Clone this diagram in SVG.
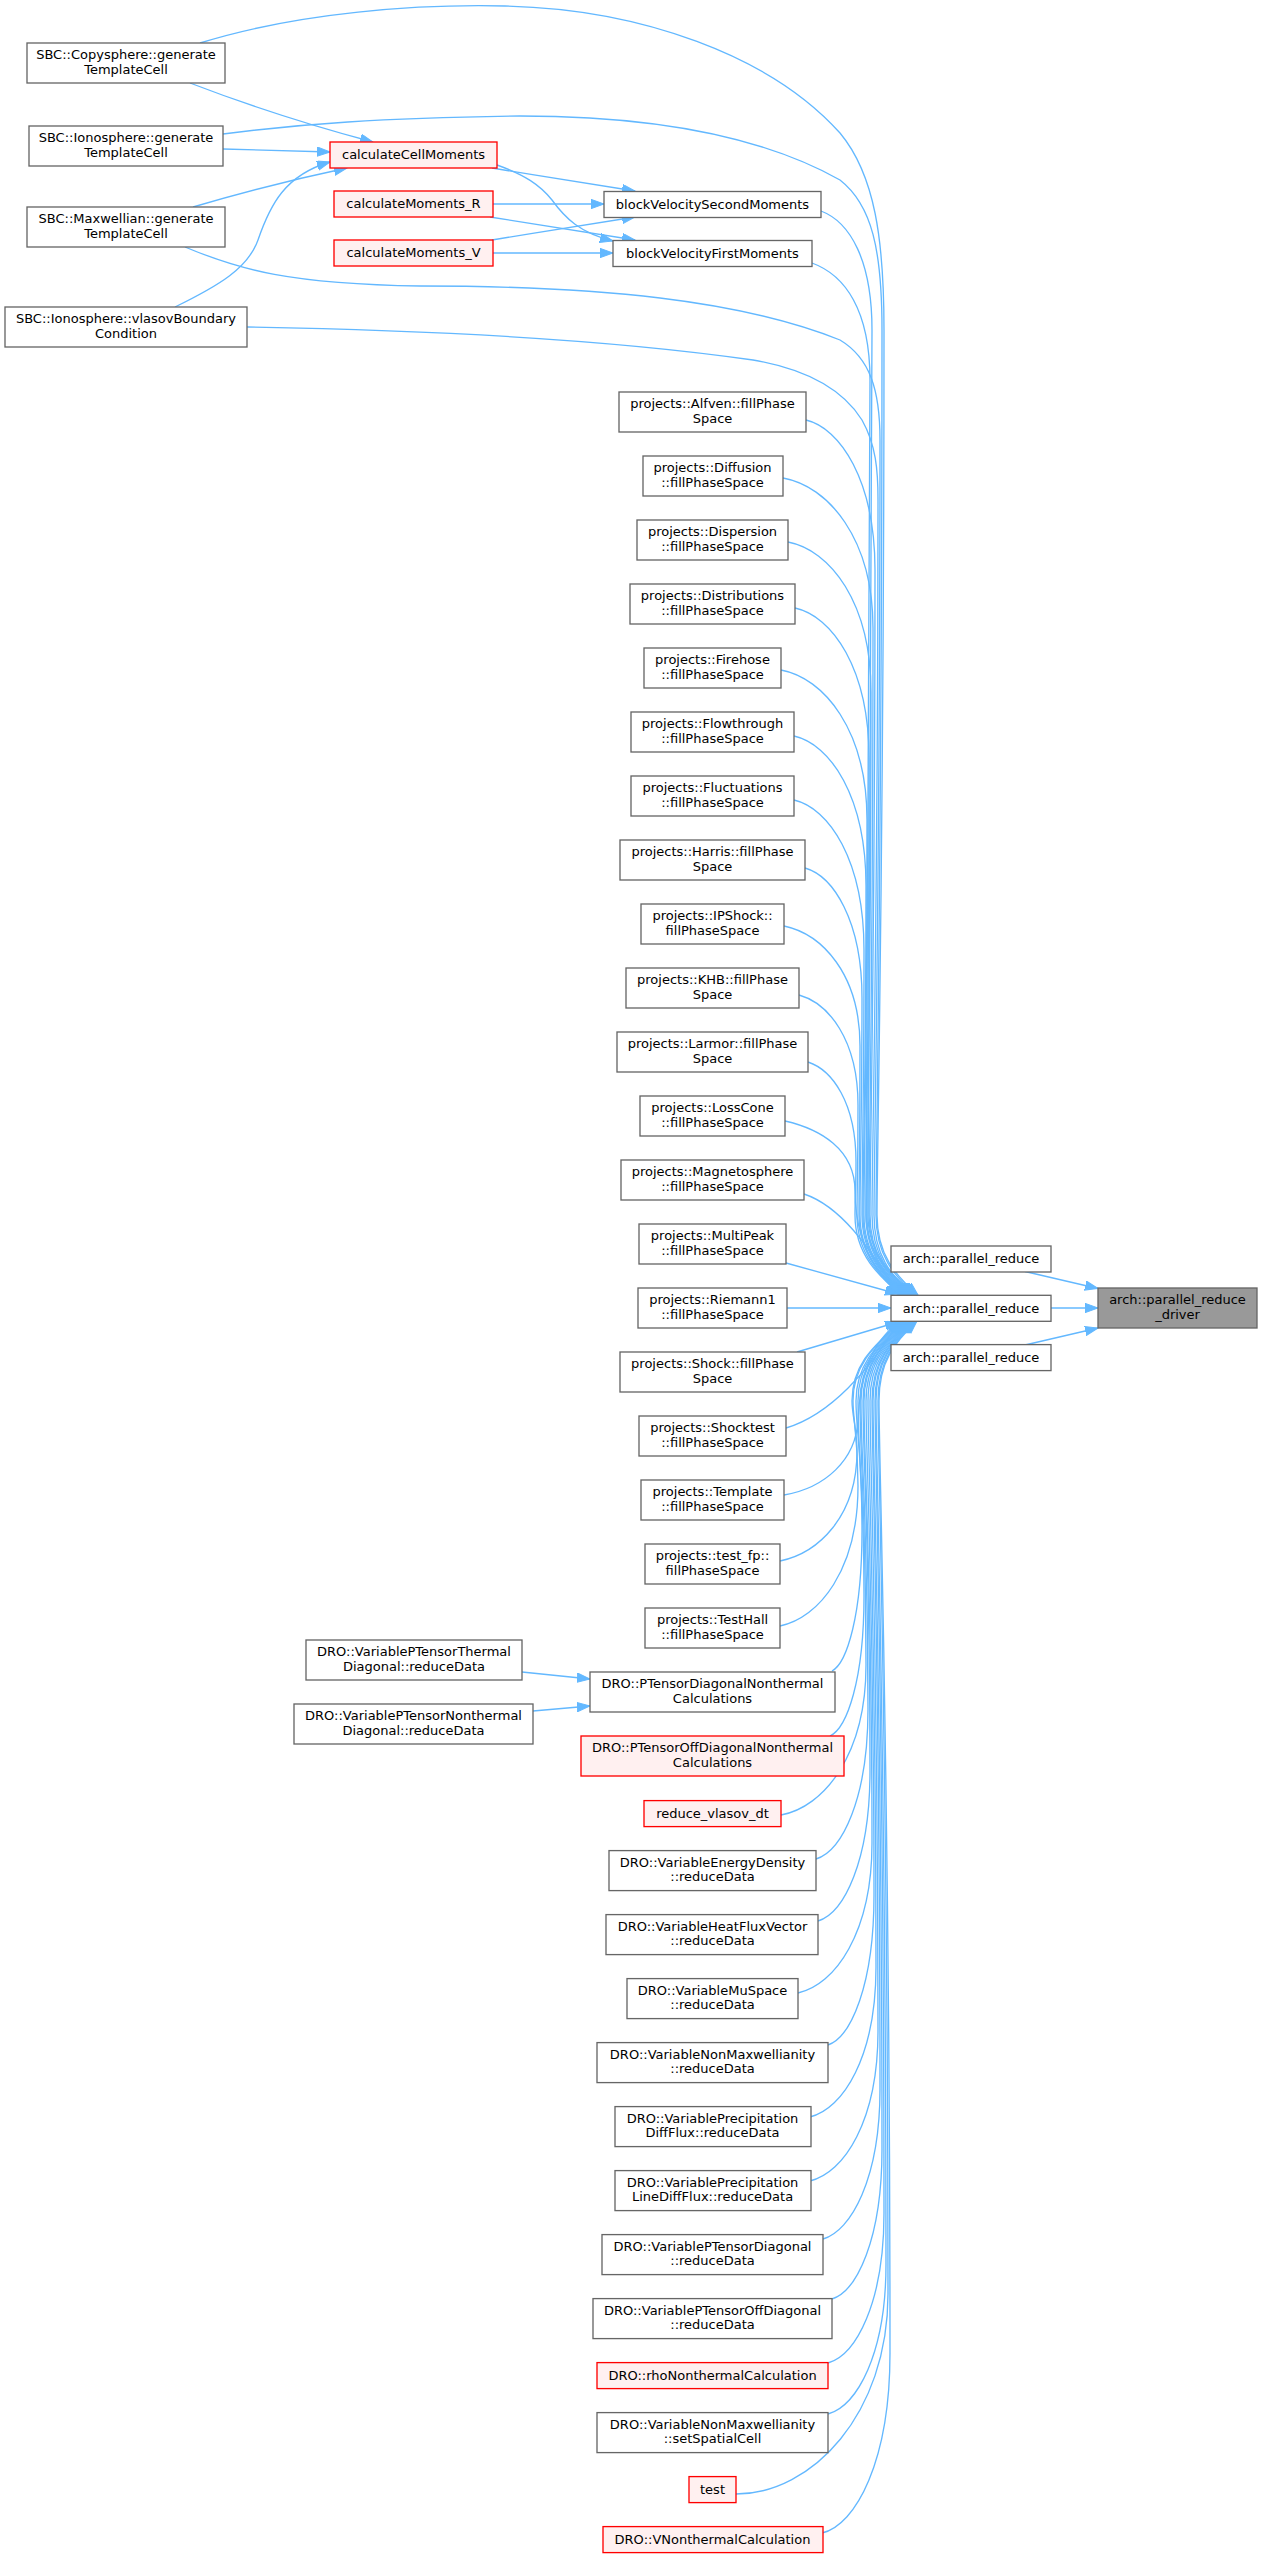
<svg xmlns="http://www.w3.org/2000/svg" width="1263" height="2558" viewBox="0 0 1263 2558">
<defs>
<marker id="a" markerUnits="userSpaceOnUse" markerWidth="14" markerHeight="10" refX="13" refY="4.67" orient="auto">
<path d="M0,0 L13,4.67 L0,9.33 Z" fill="#63b8ff" stroke="#63b8ff" stroke-width="1"/>
</marker>
</defs>
<style>
.n rect{fill:#ffffff;stroke:#666666;stroke-width:1.33}
.r rect{fill:#fff0f0;stroke:#ff0000}
.d rect{fill:#999999;stroke:#666666}
text{font-family:"DejaVu Sans",sans-serif;font-size:13px;text-anchor:middle;fill:#000000}
.e path{fill:none;stroke:#63b8ff;stroke-width:1.33;marker-end:url(#a)}
</style>
<rect width="1263" height="2558" fill="#ffffff"/>
<g class="e" id="edges">
<path d="M190,83 C250,106 320,128 373,142"/>
<path d="M223,149 C270,150 300,151 330,152"/>
<path d="M193,207 C250,190 300,178 347,168"/>
<path d="M175,307 C220,285 248,268 258,240 C270,205 285,175 330,162"/>
<path d="M492,168 C540,176 590,184 635,191"/>
<path d="M497,165 C525,175 540,185 552,200 C565,218 580,233 613,241"/>
<path d="M493,204 L604,204"/>
<path d="M490,217 C540,225 590,233 635,240"/>
<path d="M492,240 C540,232 590,224 635,217"/>
<path d="M493,253 L613,253"/>
<path d="M200,43 C300,12 420,4 505,6 C640,9 770,55 840,133 C875,175 884,240 884,330 C884,861 877,1155 877,1215 C877,1255 896,1276 918,1295"/>
<path d="M223,134 C300,124 380,118 520,116 C650,116 760,135 840,180 C872,205 882,250 882,330 C882,861 876,1155 876,1215 C876,1255 894,1276 916,1295"/>
<path d="M821,211 C850,222 872,260 872,330 C872,861 868,1155 868,1215 C868,1255 893,1276 915,1295"/>
<path d="M812,263 C845,275 870,310 870,380 C870,881 866,1155 866,1215 C866,1255 892,1276 914,1295"/>
<path d="M185,247 C240,270 290,284 420,286 C600,286 740,300 840,340 C870,358 880,390 880,440 C880,905 874,1155 874,1215 C874,1255 891,1276 913,1295"/>
<path d="M247,327 C420,330 600,338 753,360 C800,368 840,385 862,420 C876,445 878,470 878,500 C878,929 872,1155 872,1215 C872,1255 890,1276 912,1295"/>
<path d="M806,420 C840,428 875,480 875,570 C875,957 870,1155 870,1215 C870,1255 889,1276 911,1295"/>
<path d="M783,478 C828,486 873,538 873,628 C873,980 869,1155 869,1215 C869,1255 888,1276 910,1295"/>
<path d="M788,542 C830,550 871,602 871,692 C871,1006 867,1155 867,1215 C867,1255 887,1276 909,1295"/>
<path d="M795,608 C832,616 869,668 869,758 C869,1032 866,1155 866,1215 C866,1255 886,1276 908,1295"/>
<path d="M781,670 C824,678 867,730 867,820 C867,1057 864,1155 864,1215 C864,1255 885,1276 907,1295"/>
<path d="M794,736 C830,744 866,796 866,886 C866,1083 863,1155 863,1215 C863,1255 884,1276 906,1295"/>
<path d="M794,800 C829,808 864,860 864,950 C864,1109 862,1160 862,1215 C862,1255 883,1276 905,1295"/>
<path d="M805,868 C833,876 862,920 862,998 C862,1128 860,1165 860,1215 C860,1255 882,1276 904,1295"/>
<path d="M784,926 C822,934 860,974 860,1046 C860,1147 859,1175 859,1215 C859,1255 881,1276 903,1295"/>
<path d="M799,995 C828,1003 858,1039 858,1105 C858,1171 857,1190 857,1215 C857,1255 880,1276 902,1295"/>
<path d="M808,1062 C832,1070 856,1102 856,1162 C856,1185 855,1200 855,1215 C855,1255 879,1276 901,1295"/>
<path d="M785,1121 C820,1129 855,1149 855,1191 C855,1235 872,1270 900,1295"/>
<path d="M804,1194 C840,1206 868,1245 899,1295"/>
<path d="M786,1263 L898,1294"/>
<path d="M787,1308 L891,1308"/>
<path d="M797,1352 L898,1322"/>
<path d="M786,1428 C830,1415 870,1370 899,1321"/>
<path d="M784,1495 C825,1488 856,1460 858,1420 C860,1380 868,1345 900,1321"/>
<path d="M780,1561 C818,1553 857,1517 857,1451 C857,1430 852,1415 852,1401 C852,1361 879,1342 901,1321"/>
<path d="M780,1626 C819,1618 858,1570 858,1486 C858,1435 853,1420 853,1401 C853,1361 880,1342 902,1321"/>
<path d="M832,1671 C847,1663 862,1615 862,1531 C862,1453 856,1430 856,1401 C856,1361 881,1342 903,1321"/>
<path d="M830,1736 C847,1728 864,1680 864,1596 C864,1479 858,1461 858,1401 C858,1361 882,1342 904,1321"/>
<path d="M781,1815 C824,1807 866,1755 866,1665 C866,1507 860,1461 860,1401 C860,1361 883,1342 905,1321"/>
<path d="M816,1859 C842,1851 868,1799 868,1709 C868,1524 861,1461 861,1401 C861,1361 884,1342 906,1321"/>
<path d="M818,1921 C844,1913 870,1861 870,1771 C870,1549 863,1461 863,1401 C863,1361 885,1342 907,1321"/>
<path d="M798,1993 C835,1985 872,1933 872,1843 C872,1578 864,1461 864,1401 C864,1361 886,1342 908,1321"/>
<path d="M828,2045 C851,2037 874,1985 874,1895 C874,1599 866,1461 866,1401 C866,1361 887,1342 909,1321"/>
<path d="M810,2117 C843,2109 876,2057 876,1967 C876,1627 868,1461 868,1401 C868,1361 888,1342 910,1321"/>
<path d="M810,2181 C844,2173 878,2121 878,2031 C878,1653 870,1461 870,1401 C870,1361 889,1342 911,1321"/>
<path d="M823,2239 C851,2231 880,2179 880,2089 C880,1676 872,1461 872,1401 C872,1361 890,1342 912,1321"/>
<path d="M832,2299 C857,2291 882,2239 882,2149 C882,1700 873,1461 873,1401 C873,1361 891,1342 913,1321"/>
<path d="M828,2363 C856,2355 884,2303 884,2213 C884,1726 875,1461 875,1401 C875,1361 892,1342 914,1321"/>
<path d="M828,2414 C857,2406 886,2354 886,2264 C886,1746 876,1461 876,1401 C876,1361 893,1342 915,1321"/>
<path d="M736,2494 C812,2494 888,2414 888,2294 C888,1758 878,1461 878,1401 C878,1361 894,1342 916,1321"/>
<path d="M822,2533 C856,2525 890,2461 890,2353 C890,1782 879,1461 879,1401 C879,1361 895,1342 917,1321"/>
<path d="M522,1672 L590,1679"/>
<path d="M533,1711 L590,1706"/>
<path d="M1025,1271.5 L1098,1288.5"/>
<path d="M1051,1308 L1098,1308"/>
<path d="M1025,1345 L1098,1328"/>
</g>
<g id="n_copysphere" class="n"><rect x="27" y="43" width="198" height="40"/><text x="126" y="59">SBC::Copysphere::generate</text><text x="126" y="73.7">TemplateCell</text></g>
<g id="n_ionosphere_gen" class="n"><rect x="29" y="126" width="194" height="40"/><text x="126" y="142">SBC::Ionosphere::generate</text><text x="126" y="156.7">TemplateCell</text></g>
<g id="n_maxwellian" class="n"><rect x="27" y="207" width="198" height="40"/><text x="126" y="223">SBC::Maxwellian::generate</text><text x="126" y="237.7">TemplateCell</text></g>
<g id="n_vlasovbc" class="n"><rect x="5" y="307" width="242" height="40"/><text x="126" y="323">SBC::Ionosphere::vlasovBoundary</text><text x="126" y="337.7">Condition</text></g>
<g id="n_calccell" class="n r"><rect x="330" y="142" width="167" height="26"/><text x="413.5" y="159.3">calculateCellMoments</text></g>
<g id="n_calcR" class="n r"><rect x="334" y="191" width="159" height="26"/><text x="413.5" y="208.3">calculateMoments_R</text></g>
<g id="n_calcV" class="n r"><rect x="334" y="240" width="159" height="26"/><text x="413.5" y="257.3">calculateMoments_V</text></g>
<g id="n_thermal" class="n"><rect x="306" y="1640" width="216" height="40"/><text x="414" y="1656">DRO::VariablePTensorThermal</text><text x="414" y="1670.7">Diagonal::reduceData</text></g>
<g id="n_nonthermal" class="n"><rect x="294" y="1704" width="239" height="40"/><text x="413.5" y="1720">DRO::VariablePTensorNonthermal</text><text x="413.5" y="1734.7">Diagonal::reduceData</text></g>
<g id="n_bvsm" class="n"><rect x="604" y="191.5" width="217" height="26"/><text x="712.5" y="208.8">blockVelocitySecondMoments</text></g>
<g id="n_bvfm" class="n"><rect x="613" y="240.5" width="199" height="26"/><text x="712.5" y="257.8">blockVelocityFirstMoments</text></g>
<g id="n_alfven" class="n"><rect x="619" y="392" width="187" height="40"/><text x="712.5" y="408">projects::Alfven::fillPhase</text><text x="712.5" y="422.7">Space</text></g>
<g id="n_diffusion" class="n"><rect x="643" y="456" width="140" height="40"/><text x="712.5" y="472">projects::Diffusion</text><text x="712.5" y="486.7">::fillPhaseSpace</text></g>
<g id="n_dispersion" class="n"><rect x="637" y="520" width="151" height="40"/><text x="712.5" y="536">projects::Dispersion</text><text x="712.5" y="550.7">::fillPhaseSpace</text></g>
<g id="n_distributions" class="n"><rect x="630" y="584" width="165" height="40"/><text x="712.5" y="600">projects::Distributions</text><text x="712.5" y="614.7">::fillPhaseSpace</text></g>
<g id="n_firehose" class="n"><rect x="644" y="648" width="137" height="40"/><text x="712.5" y="664">projects::Firehose</text><text x="712.5" y="678.7">::fillPhaseSpace</text></g>
<g id="n_flowthrough" class="n"><rect x="631" y="712" width="163" height="40"/><text x="712.5" y="728">projects::Flowthrough</text><text x="712.5" y="742.7">::fillPhaseSpace</text></g>
<g id="n_fluctuations" class="n"><rect x="631" y="776" width="163" height="40"/><text x="712.5" y="792">projects::Fluctuations</text><text x="712.5" y="806.7">::fillPhaseSpace</text></g>
<g id="n_harris" class="n"><rect x="620" y="840" width="185" height="40"/><text x="712.5" y="856">projects::Harris::fillPhase</text><text x="712.5" y="870.7">Space</text></g>
<g id="n_ipshock" class="n"><rect x="641" y="904" width="143" height="40"/><text x="712.5" y="920">projects::IPShock::</text><text x="712.5" y="934.7">fillPhaseSpace</text></g>
<g id="n_khb" class="n"><rect x="626" y="968" width="173" height="40"/><text x="712.5" y="984">projects::KHB::fillPhase</text><text x="712.5" y="998.7">Space</text></g>
<g id="n_larmor" class="n"><rect x="617" y="1032" width="191" height="40"/><text x="712.5" y="1048">projects::Larmor::fillPhase</text><text x="712.5" y="1062.7">Space</text></g>
<g id="n_losscone" class="n"><rect x="640" y="1096" width="145" height="40"/><text x="712.5" y="1112">projects::LossCone</text><text x="712.5" y="1126.7">::fillPhaseSpace</text></g>
<g id="n_magnetosphere" class="n"><rect x="621" y="1160" width="183" height="40"/><text x="712.5" y="1176">projects::Magnetosphere</text><text x="712.5" y="1190.7">::fillPhaseSpace</text></g>
<g id="n_multipeak" class="n"><rect x="639" y="1224" width="147" height="40"/><text x="712.5" y="1240">projects::MultiPeak</text><text x="712.5" y="1254.7">::fillPhaseSpace</text></g>
<g id="n_riemann1" class="n"><rect x="638" y="1288" width="149" height="40"/><text x="712.5" y="1304">projects::Riemann1</text><text x="712.5" y="1318.7">::fillPhaseSpace</text></g>
<g id="n_shock" class="n"><rect x="620" y="1352" width="185" height="40"/><text x="712.5" y="1368">projects::Shock::fillPhase</text><text x="712.5" y="1382.7">Space</text></g>
<g id="n_shocktest" class="n"><rect x="639" y="1416" width="147" height="40"/><text x="712.5" y="1432">projects::Shocktest</text><text x="712.5" y="1446.7">::fillPhaseSpace</text></g>
<g id="n_template" class="n"><rect x="641" y="1480" width="143" height="40"/><text x="712.5" y="1496">projects::Template</text><text x="712.5" y="1510.7">::fillPhaseSpace</text></g>
<g id="n_testfp" class="n"><rect x="645" y="1544" width="135" height="40"/><text x="712.5" y="1560">projects::test_fp::</text><text x="712.5" y="1574.7">fillPhaseSpace</text></g>
<g id="n_testhall" class="n"><rect x="645" y="1608" width="135" height="40"/><text x="712.5" y="1624">projects::TestHall</text><text x="712.5" y="1638.7">::fillPhaseSpace</text></g>
<g id="n_ptdn" class="n"><rect x="590" y="1672" width="245" height="40"/><text x="712.5" y="1688">DRO::PTensorDiagonalNonthermal</text><text x="712.5" y="1702.7">Calculations</text></g>
<g id="n_ptodn" class="n r"><rect x="581" y="1736" width="263" height="40"/><text x="712.5" y="1752">DRO::PTensorOffDiagonalNonthermal</text><text x="712.5" y="1766.7">Calculations</text></g>
<g id="n_reducedt" class="n r"><rect x="644" y="1800.6" width="137" height="26"/><text x="712.5" y="1817.9">reduce_vlasov_dt</text></g>
<g id="n_energy" class="n"><rect x="609" y="1850.6" width="207" height="40"/><text x="712.5" y="1866.6">DRO::VariableEnergyDensity</text><text x="712.5" y="1881.3">::reduceData</text></g>
<g id="n_heatflux" class="n"><rect x="606" y="1914.6" width="212" height="40"/><text x="712.5" y="1930.6">DRO::VariableHeatFluxVector</text><text x="712.5" y="1945.3">::reduceData</text></g>
<g id="n_muspace" class="n"><rect x="627" y="1978.6" width="171" height="40"/><text x="712.5" y="1994.6">DRO::VariableMuSpace</text><text x="712.5" y="2009.3">::reduceData</text></g>
<g id="n_nonmax_rd" class="n"><rect x="597" y="2042.6" width="231" height="40"/><text x="712.5" y="2058.6">DRO::VariableNonMaxwellianity</text><text x="712.5" y="2073.3">::reduceData</text></g>
<g id="n_precipdiff" class="n"><rect x="615" y="2106.6" width="196" height="40"/><text x="712.5" y="2122.6">DRO::VariablePrecipitation</text><text x="712.5" y="2137.3">DiffFlux::reduceData</text></g>
<g id="n_preciplinediff" class="n"><rect x="615" y="2170.6" width="196" height="40"/><text x="712.5" y="2186.6">DRO::VariablePrecipitation</text><text x="712.5" y="2201.3">LineDiffFlux::reduceData</text></g>
<g id="n_ptdiag" class="n"><rect x="602" y="2234.6" width="221" height="40"/><text x="712.5" y="2250.6">DRO::VariablePTensorDiagonal</text><text x="712.5" y="2265.3">::reduceData</text></g>
<g id="n_ptoffdiag" class="n"><rect x="593" y="2298.6" width="239" height="40"/><text x="712.5" y="2314.6">DRO::VariablePTensorOffDiagonal</text><text x="712.5" y="2329.3">::reduceData</text></g>
<g id="n_rho" class="n r"><rect x="597" y="2362.6" width="231" height="26"/><text x="712.5" y="2379.9">DRO::rhoNonthermalCalculation</text></g>
<g id="n_nonmax_ssc" class="n"><rect x="597" y="2412.6" width="231" height="40"/><text x="712.5" y="2428.6">DRO::VariableNonMaxwellianity</text><text x="712.5" y="2443.3">::setSpatialCell</text></g>
<g id="n_test" class="n r"><rect x="689" y="2476.6" width="47" height="26"/><text x="712.5" y="2493.9">test</text></g>
<g id="n_vnonthermal" class="n r"><rect x="603" y="2526.6" width="220" height="26"/><text x="712.5" y="2543.9">DRO::VNonthermalCalculation</text></g>
<g id="n_pr1" class="n"><rect x="891" y="1246" width="160" height="26"/><text x="971" y="1263.3">arch::parallel_reduce</text></g>
<g id="n_pr2" class="n"><rect x="891" y="1295.3" width="160" height="26"/><text x="971" y="1312.6">arch::parallel_reduce</text></g>
<g id="n_pr3" class="n"><rect x="891" y="1344.6" width="160" height="26"/><text x="971" y="1361.9">arch::parallel_reduce</text></g>
<g id="n_driver" class="n d"><rect x="1098" y="1288" width="159" height="40"/><text x="1177.5" y="1304">arch::parallel_reduce</text><text x="1177.5" y="1318.7">_driver</text></g>
</svg>
